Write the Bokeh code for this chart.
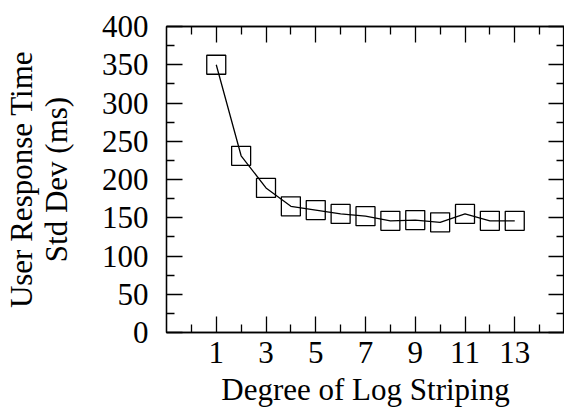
from bokeh.plotting import figure
from bokeh.models import Range1d, FixedTicker, LinearAxis
from bokeh.embed import file_html
from bokeh.resources import INLINE

degree = [1, 2, 3, 4, 5, 6, 7, 8, 9, 10, 11, 12, 13]
std_dev = [350, 231, 189, 165, 160, 155, 152, 146, 147, 144, 155, 146, 146]

x_major = [1, 3, 5, 7, 9, 11, 13]
x_minor = [0, 2, 4, 6, 8, 10, 12, 14]
y_major = [0, 50, 100, 150, 200, 250, 300, 350, 400]
y_minor = [25, 75, 125, 175, 225, 275, 325, 375]

FONT = "Liberation Serif"
FS = "31px"

p = figure(width=564, height=409, output_backend="svg", toolbar_location=None,
           x_range=Range1d(-1, 15), y_range=Range1d(0, 400),
           x_axis_type=None, y_axis_type=None,
           min_border_left=157, min_border_right=0, min_border_top=26, min_border_bottom=76)
p.grid.visible = False
p.outline_line_color = "black"
p.outline_line_width = 1.3
p.background_fill_color = "white"
p.border_fill_color = "white"


def style(ax):
    ax.axis_line_color = "black"
    ax.axis_line_width = 1.3
    ax.major_tick_in = 16
    ax.major_tick_out = 0
    ax.minor_tick_in = 8
    ax.minor_tick_out = 0
    ax.major_tick_line_color = "black"
    ax.minor_tick_line_color = "black"
    ax.major_tick_line_width = 1.3
    ax.minor_tick_line_width = 1.3
    ax.major_label_text_font = FONT
    ax.major_label_text_color = "black"
    ax.axis_label_text_font = FONT
    ax.axis_label_text_font_style = "normal"
    ax.axis_label_text_color = "black"
    ax.axis_label_text_font_size = FS
    ax.major_label_text_font_size = FS


def hide_labels(ax, ticks):
    ax.major_label_overrides = {t: "" for t in ticks}
    ax.major_label_text_font_size = "0px"
    ax.major_label_standoff = 0
    ax.axis_label_standoff = 0
    ax.axis_label_text_font_size = "0px"


xt = FixedTicker(ticks=x_major, minor_ticks=x_minor)
yt = FixedTicker(ticks=y_major, minor_ticks=y_minor)

xb = LinearAxis(ticker=xt, axis_label="Degree of Log Striping")
style(xb)
xb.major_label_standoff = 9
xb.axis_label_standoff = 6
p.add_layout(xb, "below")

yl = LinearAxis(ticker=yt, axis_label="User Response Time\nStd Dev (ms)")
style(yl)
yl.major_label_standoff = 18
yl.axis_label_standoff = 25
yl.axis_label_text_line_height = 1.0
p.add_layout(yl, "left")

xa = LinearAxis(ticker=xt)
style(xa)
hide_labels(xa, x_major)
p.add_layout(xa, "above")

yr = LinearAxis(ticker=yt)
style(yr)
hide_labels(yr, y_major)
p.add_layout(yr, "right")

p.line(degree, std_dev, line_color="black", line_width=1.3)
p.scatter(degree, std_dev, marker="square", size=19, fill_alpha=0,
          line_color="black", line_width=1.3)

open("out.html", "w").write(file_html(p, INLINE))
